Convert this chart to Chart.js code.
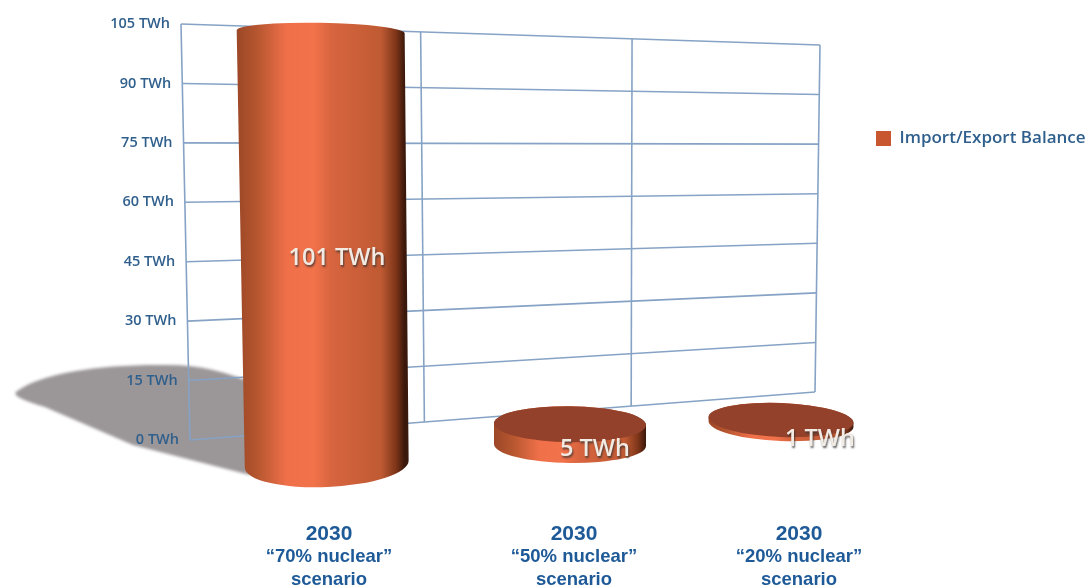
<!DOCTYPE html>
<html><head><meta charset="utf-8">
<script src="https://cdn.jsdelivr.net/npm/chart.js@4"></script>
<style>html,body{margin:0;padding:0;background:#fff}canvas{display:block;filter:blur(0.6px)}</style>
</head><body><canvas id="c" width="1092" height="586"></canvas>
<script>
const years = ["2030", "2030", "2030"];
const scenarios = [["“70% nuclear”", "scenario"], ["“50% nuclear”", "scenario"], ["“20% nuclear”", "scenario"]];
const seriesName = "Import/Export Balance";
const balanceTWh = [101, 5, 1];
const valueLabels = ["101 TWh", "5 TWh", "1 TWh"];
const axisMax = 105;
const axisStep = 15;

const GRID = '#86a3c5', TICK = '#2f5f8c', CAT = '#1f5a98';
// perspective of the back wall and of the front row
const wall = {tl:[181,24], tr:[820,45], bl:[190,440], br:[815,392], c:0.2};
const persp = t => (1+wall.c)*t/(1+wall.c*t);
const front = [
  {dx:36.5, dy:24,  rx:84,   ryTop:9,  ryBot:23, rotTop:0.018, rotBot:-0.045, k:1.08, lean:0.014, labX:13, labY:null},
  {dx:69.5, dy:5,   rx:76,   ryTop:18, ryBot:18, rotTop:0.012, rotBot:0.012,  k:1.05, lean:0,     labX:25, labY:29},
  {dx:67.5, dy:-16, rx:72.5, ryTop:17, ryBot:17, rotTop:0.04,  rotBot:0.04,   k:1.0,  lean:0,     labX:39, labY:3}
];
const labelShift = [41.5, 73.5, 85.5];

const cylinder3d = {
  id:'cylinder3d',
  afterLayout(chart){
    const lg = chart.legend, w = lg.width, h = lg.height;
    lg.left = 866; lg.right = 866 + w; lg.top = 120; lg.bottom = 120 + h;
    const ya = chart.scales.y, xa = chart.scales.x, x2 = chart.scales.x2;
    const yi = ya.getLabelItems();
    if(!yi._moved){ yi._moved = true;
      yi.forEach(it=>{ const f=(it.options.translation[1]-wall.tl[1])/(wall.bl[1]-wall.tl[1]);
        it.options.translation[0]+=f*(wall.bl[0]-wall.tl[0]); });
    }
    [xa,x2].forEach(s=>{ const items=s.getLabelItems();
      if(!items._moved){ items._moved=true; items.forEach((it,i)=>{
        it.options.translation[0]+=labelShift[i];
        if(s===x2) it.options.translation[1]-=5;
      }); }
    });
  },
  beforeDraw(chart){
    const {ctx} = chart, ya = chart.scales.y, xa = chart.scales.x;
    const meta = chart.getDatasetMeta(0), el = meta.data[0], f = front[0];
    // cast shadow of the tallest cylinder
    const bx = el.x + f.dx - f.rx + 6, by = el.base + f.dy + 8;
    const sc = (el.base - el.y) / 400;
    const P = (dx,dy)=>[bx + dx*sc, by + dy*sc];
    ctx.save();
    ctx.filter = 'blur(1.5px)';
    ctx.fillStyle = '#9b9698';
    ctx.beginPath();
    ctx.moveTo(...P(4,3));
    ctx.lineTo(...P(-113,-27));
    ctx.lineTo(...P(-201,-65));
    ctx.quadraticCurveTo(...P(-235,-75), ...P(-230,-80));
    ctx.bezierCurveTo(...P(-205,-100), ...P(-140,-108), ...P(-79,-107));
    ctx.bezierCurveTo(...P(-45,-107), ...P(-20,-100), ...P(10,-88));
    ctx.closePath(); ctx.fill();
    ctx.restore();
    // back wall grid in perspective
    ctx.save();
    ctx.strokeStyle = GRID; ctx.lineWidth = 1.6;
    const h = wall.bl[1]-wall.tl[1];
    ya.ticks.forEach(t=>{
      const y = ya.getPixelForValue(t.value), f2 = (y-wall.tl[1])/h;
      const xL = wall.tl[0]+f2*(wall.bl[0]-wall.tl[0]);
      const xR = wall.tr[0]+f2*(wall.br[0]-wall.tr[0]);
      const yR = wall.tr[1]+f2*(wall.br[1]-wall.tr[1]);
      ctx.beginPath(); ctx.moveTo(xL,y); ctx.lineTo(xR,yR); ctx.stroke();
    });
    const n = xa.ticks.length;
    for(let i=0;i<=n;i++){
      const s = persp(i/n);
      ctx.beginPath();
      ctx.moveTo(wall.tl[0]+s*(wall.tr[0]-wall.tl[0]), wall.tl[1]+s*(wall.tr[1]-wall.tl[1]));
      ctx.lineTo(wall.bl[0]+s*(wall.br[0]-wall.bl[0]), wall.bl[1]+s*(wall.br[1]-wall.bl[1]));
      ctx.stroke();
    }
    ctx.restore();
  },
  beforeDatasetDraw(chart, args){
    const {ctx} = chart, meta = args.meta;
    meta.data.forEach((el,i)=>{
      const f = front[i], hgt = (el.base-el.y)*f.k;
      const bcx = el.x+f.dx+hgt*f.lean*0.45, bcy = el.base+f.dy;
      const tcx = bcx-hgt*f.lean, tcy = bcy-hgt;
      const rxB = i===0 ? f.rx-2 : f.rx;
      const g = ctx.createLinearGradient(tcx-f.rx,0,tcx+f.rx,0);
      g.addColorStop(0,'#9c4727'); g.addColorStop(0.12,'#b5562f');
      g.addColorStop(0.3,'#f0704a'); g.addColorStop(0.46,'#f2724a');
      g.addColorStop(0.56,'#d8653f'); g.addColorStop(0.86,'#bf5a33');
      g.addColorStop(0.95,'#7c3418'); g.addColorStop(1,'#3a180b');
      ctx.save();
      ctx.fillStyle = g;
      ctx.beginPath();
      ctx.ellipse(tcx,tcy,f.rx,f.ryTop,f.rotTop,Math.PI,2*Math.PI);
      ctx.ellipse(bcx,bcy,rxB,f.ryBot,f.rotBot,0,Math.PI);
      ctx.closePath(); ctx.fill();
      if(i>0){
        ctx.fillStyle = '#93412a';
        ctx.beginPath();
        ctx.ellipse(tcx,tcy,f.rx,f.ryTop,f.rotTop,0,2*Math.PI);
        ctx.fill();
      }
      ctx.restore();
    });
    return false;
  },
  afterDatasetsDraw(chart){
    const {ctx} = chart, meta = chart.getDatasetMeta(0);
    meta.data.forEach((el,i)=>{
      const f = front[i];
      const y = f.labY===null ? (el.y+el.base)/2+18 : el.y+f.labY;
      ctx.save();
      ctx.font = '600 23.5px "Open Sans"';
      ctx.textAlign='center'; ctx.textBaseline='middle';
      ctx.shadowColor='rgba(50,50,50,0.75)'; ctx.shadowOffsetX=1; ctx.shadowOffsetY=2; ctx.shadowBlur=2;
      ctx.fillStyle='#f2ebe4';
      ctx.fillText(valueLabels[i], el.x+f.dx+f.labX, y);
      ctx.restore();
    });
  }
};

new Chart(document.getElementById('c'), {
  type:'bar',
  data:{labels:years, datasets:[{label:seriesName, data:balanceTWh, backgroundColor:'#c8572f'}]},
  options:{
    responsive:false, animation:false,
    layout:{padding:{top:24,right:272,left:0,bottom:0}},
    scales:{
      y:{min:0,max:axisMax,
        afterFit(s){s.width=181;},
        border:{display:false},grid:{display:false},
        afterBuildTicks(s){const t=[];for(let v=0;v<=axisMax;v+=axisStep)t.push({value:v});s.ticks=t;},
        ticks:{padding:3,color:TICK,font:{family:'"Open Sans"',size:14.5,weight:'600'},
          callback:v=>v+' TWh'}},
      x:{weight:0,offset:true,
        afterFit(s){s.height=102;},
        border:{display:false},grid:{display:false},
        ticks:{padding:74,color:CAT,maxRotation:0,autoSkip:false,font:{family:'"Liberation Sans"',size:21,weight:'bold'}}},
      x2:{type:'category',position:'bottom',weight:1,offset:true,labels:scenarios,
        afterFit(s){s.height=44;},
        border:{display:false},grid:{display:false},
        ticks:{padding:0,color:CAT,maxRotation:0,autoSkip:false,font:{family:'"Liberation Sans"',size:18.5,weight:'bold',lineHeight:1.25}}}
    },
    plugins:{
      legend:{position:'chartArea',align:'start',
        labels:{boxWidth:15,boxHeight:15,padding:10,color:TICK,font:{family:'"Open Sans"',size:17,weight:'600'}}},
      tooltip:{enabled:false}
    }
  },
  plugins:[cylinder3d]
});
</script></body></html>
